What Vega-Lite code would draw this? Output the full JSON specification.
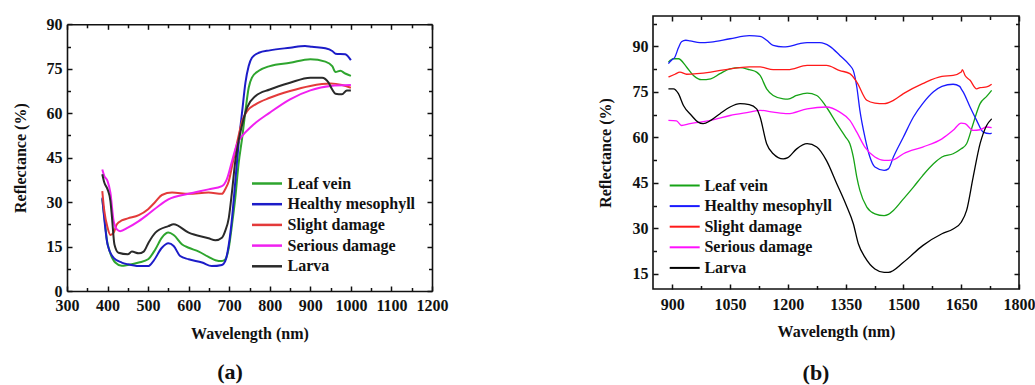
{
"$schema": "https://vega.github.io/schema/vega-lite/v6.json",
"background": "white",
"padding": {"left": 12, "top": 14, "right": 0, "bottom": 0},
"spacing": 148,
"resolve": {"scale": {"color": "independent"}, "legend": {"color": "independent"}},
"datasets": {
"a": [
{"s":"Leaf vein","w":387,"r":31},{"s":"Leaf vein","w":393,"r":24},{"s":"Leaf vein","w":398,"r":17.5},{"s":"Leaf vein","w":405,"r":13.5},{"s":"Leaf vein","w":419,"r":9.6},{"s":"Leaf vein","w":435,"r":8.5},{"s":"Leaf vein","w":450,"r":8.8},{"s":"Leaf vein","w":477,"r":9.6},{"s":"Leaf vein","w":500,"r":10.7},{"s":"Leaf vein","w":518,"r":14.1},{"s":"Leaf vein","w":534,"r":18},{"s":"Leaf vein","w":550,"r":19.7},{"s":"Leaf vein","w":563,"r":18.9},{"s":"Leaf vein","w":584,"r":15.7},{"s":"Leaf vein","w":600,"r":14.6},{"s":"Leaf vein","w":625,"r":13.3},{"s":"Leaf vein","w":649,"r":11.5},{"s":"Leaf vein","w":666,"r":10.4},{"s":"Leaf vein","w":682,"r":10.1},{"s":"Leaf vein","w":690,"r":10.6},{"s":"Leaf vein","w":699,"r":14.6},{"s":"Leaf vein","w":707,"r":22.5},{"s":"Leaf vein","w":715,"r":31.5},{"s":"Leaf vein","w":723,"r":42.8},{"s":"Leaf vein","w":732,"r":51.8},{"s":"Leaf vein","w":740,"r":60.8},{"s":"Leaf vein","w":748,"r":68.6},{"s":"Leaf vein","w":756,"r":72},{"s":"Leaf vein","w":773,"r":74.3},{"s":"Leaf vein","w":800,"r":75.9},{"s":"Leaf vein","w":850,"r":77},{"s":"Leaf vein","w":900,"r":78.2},{"s":"Leaf vein","w":937,"r":77.4},{"s":"Leaf vein","w":954,"r":75.9},{"s":"Leaf vein","w":962,"r":73.9},{"s":"Leaf vein","w":974,"r":74.3},{"s":"Leaf vein","w":986,"r":73.4},{"s":"Leaf vein","w":1000,"r":72.6},
{"s":"Healthy mesophyll","w":387,"r":31.5},{"s":"Healthy mesophyll","w":393,"r":23},{"s":"Healthy mesophyll","w":400,"r":15.7},{"s":"Healthy mesophyll","w":415,"r":11.2},{"s":"Healthy mesophyll","w":435,"r":9.6},{"s":"Healthy mesophyll","w":450,"r":9},{"s":"Healthy mesophyll","w":477,"r":8.4},{"s":"Healthy mesophyll","w":500,"r":8.4},{"s":"Healthy mesophyll","w":513,"r":10.1},{"s":"Healthy mesophyll","w":534,"r":14.6},{"s":"Healthy mesophyll","w":550,"r":16.1},{"s":"Healthy mesophyll","w":563,"r":15.2},{"s":"Healthy mesophyll","w":579,"r":11.8},{"s":"Healthy mesophyll","w":600,"r":10.7},{"s":"Healthy mesophyll","w":633,"r":9.6},{"s":"Healthy mesophyll","w":657,"r":8.4},{"s":"Healthy mesophyll","w":682,"r":8.8},{"s":"Healthy mesophyll","w":690,"r":10},{"s":"Healthy mesophyll","w":699,"r":15.7},{"s":"Healthy mesophyll","w":707,"r":24.7},{"s":"Healthy mesophyll","w":715,"r":37},{"s":"Healthy mesophyll","w":723,"r":49.5},{"s":"Healthy mesophyll","w":732,"r":60.7},{"s":"Healthy mesophyll","w":740,"r":70.3},{"s":"Healthy mesophyll","w":748,"r":75.9},{"s":"Healthy mesophyll","w":756,"r":78.7},{"s":"Healthy mesophyll","w":773,"r":80.4},{"s":"Healthy mesophyll","w":800,"r":81.2},{"s":"Healthy mesophyll","w":850,"r":82.1},{"s":"Healthy mesophyll","w":887,"r":82.7},{"s":"Healthy mesophyll","w":904,"r":82.4},{"s":"Healthy mesophyll","w":937,"r":81.9},{"s":"Healthy mesophyll","w":954,"r":81},{"s":"Healthy mesophyll","w":962,"r":80.1},{"s":"Healthy mesophyll","w":986,"r":79.9},{"s":"Healthy mesophyll","w":1000,"r":77.9},
{"s":"Slight damage","w":387,"r":33.7},{"s":"Slight damage","w":392,"r":27},{"s":"Slight damage","w":400,"r":21.4},{"s":"Slight damage","w":407,"r":18.9},{"s":"Slight damage","w":415,"r":19.7},{"s":"Slight damage","w":423,"r":22.5},{"s":"Slight damage","w":435,"r":23.8},{"s":"Slight damage","w":450,"r":24.5},{"s":"Slight damage","w":477,"r":25.6},{"s":"Slight damage","w":500,"r":27.6},{"s":"Slight damage","w":518,"r":30.1},{"s":"Slight damage","w":534,"r":32.4},{"s":"Slight damage","w":559,"r":33.2},{"s":"Slight damage","w":600,"r":32.8},{"s":"Slight damage","w":649,"r":33.2},{"s":"Slight damage","w":682,"r":32.8},{"s":"Slight damage","w":690,"r":34.3},{"s":"Slight damage","w":699,"r":37.1},{"s":"Slight damage","w":707,"r":42.2},{"s":"Slight damage","w":715,"r":47.2},{"s":"Slight damage","w":723,"r":52.3},{"s":"Slight damage","w":732,"r":57.4},{"s":"Slight damage","w":744,"r":60.7},{"s":"Slight damage","w":765,"r":63},{"s":"Slight damage","w":800,"r":65.2},{"s":"Slight damage","w":850,"r":67.5},{"s":"Slight damage","w":900,"r":69.2},{"s":"Slight damage","w":950,"r":70},{"s":"Slight damage","w":978,"r":69.5},{"s":"Slight damage","w":1000,"r":68.6},
{"s":"Serious damage","w":387,"r":41},{"s":"Serious damage","w":392,"r":38.8},{"s":"Serious damage","w":400,"r":37.1},{"s":"Serious damage","w":407,"r":33.2},{"s":"Serious damage","w":415,"r":23.6},{"s":"Serious damage","w":423,"r":20.8},{"s":"Serious damage","w":431,"r":20.2},{"s":"Serious damage","w":450,"r":21.4},{"s":"Serious damage","w":477,"r":23.6},{"s":"Serious damage","w":500,"r":25.9},{"s":"Serious damage","w":526,"r":28.7},{"s":"Serious damage","w":550,"r":30.9},{"s":"Serious damage","w":600,"r":32.8},{"s":"Serious damage","w":649,"r":34.3},{"s":"Serious damage","w":682,"r":35.4},{"s":"Serious damage","w":694,"r":37.7},{"s":"Serious damage","w":707,"r":43.9},{"s":"Serious damage","w":719,"r":49.5},{"s":"Serious damage","w":732,"r":52.3},{"s":"Serious damage","w":756,"r":55.7},{"s":"Serious damage","w":800,"r":60.2},{"s":"Serious damage","w":850,"r":64.7},{"s":"Serious damage","w":900,"r":67.7},{"s":"Serious damage","w":950,"r":69.2},{"s":"Serious damage","w":1000,"r":69.5},
{"s":"Larva","w":387,"r":39.4},{"s":"Larva","w":392,"r":36.6},{"s":"Larva","w":400,"r":34.3},{"s":"Larva","w":407,"r":30.4},{"s":"Larva","w":411,"r":24.7},{"s":"Larva","w":417,"r":15.7},{"s":"Larva","w":427,"r":12.9},{"s":"Larva","w":450,"r":12.4},{"s":"Larva","w":460,"r":13.3},{"s":"Larva","w":477,"r":12.7},{"s":"Larva","w":489,"r":13.3},{"s":"Larva","w":501,"r":16.3},{"s":"Larva","w":518,"r":19.7},{"s":"Larva","w":550,"r":21.9},{"s":"Larva","w":563,"r":22.5},{"s":"Larva","w":600,"r":19.7},{"s":"Larva","w":649,"r":17.8},{"s":"Larva","w":666,"r":17.1},{"s":"Larva","w":682,"r":18},{"s":"Larva","w":690,"r":20.2},{"s":"Larva","w":699,"r":24.7},{"s":"Larva","w":707,"r":33.7},{"s":"Larva","w":715,"r":43.9},{"s":"Larva","w":723,"r":50.6},{"s":"Larva","w":732,"r":56.2},{"s":"Larva","w":744,"r":61.9},{"s":"Larva","w":765,"r":65.8},{"s":"Larva","w":800,"r":68},{"s":"Larva","w":850,"r":70.3},{"s":"Larva","w":900,"r":72},{"s":"Larva","w":929,"r":72},{"s":"Larva","w":945,"r":70.3},{"s":"Larva","w":954,"r":68},{"s":"Larva","w":962,"r":66.6},{"s":"Larva","w":978,"r":66.4},{"s":"Larva","w":990,"r":67.7},{"s":"Larva","w":1000,"r":67.7}
],
"b": [
{"s":"Leaf vein","w":890,"r":84.8},{"s":"Leaf vein","w":903,"r":85.9},{"s":"Leaf vein","w":916,"r":85.9},{"s":"Leaf vein","w":937,"r":83.2},{"s":"Leaf vein","w":955,"r":80.4},{"s":"Leaf vein","w":976,"r":79},{"s":"Leaf vein","w":1000,"r":79.3},{"s":"Leaf vein","w":1024,"r":81},{"s":"Leaf vein","w":1050,"r":82.6},{"s":"Leaf vein","w":1076,"r":83},{"s":"Leaf vein","w":1100,"r":82.3},{"s":"Leaf vein","w":1119,"r":81.5},{"s":"Leaf vein","w":1128,"r":80.4},{"s":"Leaf vein","w":1145,"r":76},{"s":"Leaf vein","w":1162,"r":73.8},{"s":"Leaf vein","w":1188,"r":72.7},{"s":"Leaf vein","w":1200,"r":72.6},{"s":"Leaf vein","w":1223,"r":73.8},{"s":"Leaf vein","w":1250,"r":74.6},{"s":"Leaf vein","w":1275,"r":73.8},{"s":"Leaf vein","w":1300,"r":70},{"s":"Leaf vein","w":1327,"r":64.5},{"s":"Leaf vein","w":1350,"r":60.1},{"s":"Leaf vein","w":1361,"r":57.9},{"s":"Leaf vein","w":1370,"r":53.5},{"s":"Leaf vein","w":1379,"r":46.9},{"s":"Leaf vein","w":1387,"r":42.5},{"s":"Leaf vein","w":1405,"r":37},{"s":"Leaf vein","w":1426,"r":34.8},{"s":"Leaf vein","w":1450,"r":34.2},{"s":"Leaf vein","w":1461,"r":34.6},{"s":"Leaf vein","w":1474,"r":35.9},{"s":"Leaf vein","w":1500,"r":39.7},{"s":"Leaf vein","w":1526,"r":43.6},{"s":"Leaf vein","w":1550,"r":47.4},{"s":"Leaf vein","w":1578,"r":51.3},{"s":"Leaf vein","w":1600,"r":53.5},{"s":"Leaf vein","w":1629,"r":54.6},{"s":"Leaf vein","w":1650,"r":56.2},{"s":"Leaf vein","w":1664,"r":57.9},{"s":"Leaf vein","w":1681,"r":64.5},{"s":"Leaf vein","w":1699,"r":71.1},{"s":"Leaf vein","w":1716,"r":73.5},{"s":"Leaf vein","w":1729,"r":75.5},
{"s":"Healthy mesophyll","w":890,"r":84.3},{"s":"Healthy mesophyll","w":898,"r":85.4},{"s":"Healthy mesophyll","w":907,"r":86.5},{"s":"Healthy mesophyll","w":916,"r":89.5},{"s":"Healthy mesophyll","w":924,"r":91.5},{"s":"Healthy mesophyll","w":935,"r":92},{"s":"Healthy mesophyll","w":946,"r":91.8},{"s":"Healthy mesophyll","w":972,"r":91.2},{"s":"Healthy mesophyll","w":1000,"r":91.4},{"s":"Healthy mesophyll","w":1050,"r":92.5},{"s":"Healthy mesophyll","w":1100,"r":93.5},{"s":"Healthy mesophyll","w":1128,"r":93.3},{"s":"Healthy mesophyll","w":1145,"r":92},{"s":"Healthy mesophyll","w":1162,"r":90.3},{"s":"Healthy mesophyll","w":1188,"r":89.8},{"s":"Healthy mesophyll","w":1200,"r":89.9},{"s":"Healthy mesophyll","w":1231,"r":90.9},{"s":"Healthy mesophyll","w":1250,"r":91.2},{"s":"Healthy mesophyll","w":1283,"r":91.2},{"s":"Healthy mesophyll","w":1309,"r":90},{"s":"Healthy mesophyll","w":1335,"r":87},{"s":"Healthy mesophyll","w":1361,"r":83.7},{"s":"Healthy mesophyll","w":1370,"r":82},{"s":"Healthy mesophyll","w":1379,"r":76.6},{"s":"Healthy mesophyll","w":1387,"r":68.9},{"s":"Healthy mesophyll","w":1400,"r":60.1},{"s":"Healthy mesophyll","w":1413,"r":53.5},{"s":"Healthy mesophyll","w":1426,"r":50.2},{"s":"Healthy mesophyll","w":1450,"r":49.1},{"s":"Healthy mesophyll","w":1461,"r":49.6},{"s":"Healthy mesophyll","w":1474,"r":53.5},{"s":"Healthy mesophyll","w":1500,"r":60.1},{"s":"Healthy mesophyll","w":1526,"r":66.7},{"s":"Healthy mesophyll","w":1550,"r":71.1},{"s":"Healthy mesophyll","w":1578,"r":75},{"s":"Healthy mesophyll","w":1600,"r":76.8},{"s":"Healthy mesophyll","w":1629,"r":77.5},{"s":"Healthy mesophyll","w":1646,"r":76.8},{"s":"Healthy mesophyll","w":1650,"r":76},{"s":"Healthy mesophyll","w":1655,"r":75},{"s":"Healthy mesophyll","w":1673,"r":70},{"s":"Healthy mesophyll","w":1690,"r":65.6},{"s":"Healthy mesophyll","w":1707,"r":61.7},{"s":"Healthy mesophyll","w":1724,"r":61.2},{"s":"Healthy mesophyll","w":1729,"r":61.4},
{"s":"Slight damage","w":890,"r":79.9},{"s":"Slight damage","w":907,"r":80.8},{"s":"Slight damage","w":920,"r":81.5},{"s":"Slight damage","w":937,"r":80.8},{"s":"Slight damage","w":1000,"r":81.5},{"s":"Slight damage","w":1050,"r":82.6},{"s":"Slight damage","w":1100,"r":83.2},{"s":"Slight damage","w":1128,"r":83.2},{"s":"Slight damage","w":1162,"r":82.3},{"s":"Slight damage","w":1200,"r":82.3},{"s":"Slight damage","w":1250,"r":83.7},{"s":"Slight damage","w":1300,"r":83.7},{"s":"Slight damage","w":1335,"r":82},{"s":"Slight damage","w":1361,"r":81},{"s":"Slight damage","w":1379,"r":78.2},{"s":"Slight damage","w":1405,"r":72.2},{"s":"Slight damage","w":1426,"r":71.3},{"s":"Slight damage","w":1450,"r":71.1},{"s":"Slight damage","w":1474,"r":72.2},{"s":"Slight damage","w":1500,"r":74.4},{"s":"Slight damage","w":1550,"r":77.7},{"s":"Slight damage","w":1600,"r":80.1},{"s":"Slight damage","w":1629,"r":80.4},{"s":"Slight damage","w":1650,"r":81.5},{"s":"Slight damage","w":1653,"r":82.3},{"s":"Slight damage","w":1660,"r":80.4},{"s":"Slight damage","w":1673,"r":78.8},{"s":"Slight damage","w":1690,"r":76},{"s":"Slight damage","w":1699,"r":76.4},{"s":"Slight damage","w":1716,"r":76.6},{"s":"Slight damage","w":1729,"r":77.5},
{"s":"Serious damage","w":890,"r":65.6},{"s":"Serious damage","w":911,"r":65.4},{"s":"Serious damage","w":924,"r":63.9},{"s":"Serious damage","w":946,"r":64.5},{"s":"Serious damage","w":1000,"r":65.6},{"s":"Serious damage","w":1050,"r":67.2},{"s":"Serious damage","w":1100,"r":68.3},{"s":"Serious damage","w":1128,"r":68.9},{"s":"Serious damage","w":1162,"r":68.3},{"s":"Serious damage","w":1200,"r":67.8},{"s":"Serious damage","w":1250,"r":69.4},{"s":"Serious damage","w":1300,"r":70},{"s":"Serious damage","w":1335,"r":68.3},{"s":"Serious damage","w":1361,"r":65.6},{"s":"Serious damage","w":1379,"r":61.7},{"s":"Serious damage","w":1400,"r":56.8},{"s":"Serious damage","w":1426,"r":53.5},{"s":"Serious damage","w":1450,"r":52.4},{"s":"Serious damage","w":1474,"r":52.6},{"s":"Serious damage","w":1500,"r":54.6},{"s":"Serious damage","w":1550,"r":56.8},{"s":"Serious damage","w":1600,"r":59.5},{"s":"Serious damage","w":1629,"r":62.3},{"s":"Serious damage","w":1650,"r":64.7},{"s":"Serious damage","w":1660,"r":64.5},{"s":"Serious damage","w":1681,"r":62.3},{"s":"Serious damage","w":1699,"r":62.5},{"s":"Serious damage","w":1716,"r":63.4},{"s":"Serious damage","w":1729,"r":63.2},
{"s":"Larva","w":890,"r":76},{"s":"Larva","w":903,"r":76},{"s":"Larva","w":916,"r":74.4},{"s":"Larva","w":929,"r":70.5},{"s":"Larva","w":950,"r":67.2},{"s":"Larva","w":967,"r":65},{"s":"Larva","w":980,"r":64.5},{"s":"Larva","w":1000,"r":65.6},{"s":"Larva","w":1024,"r":67.8},{"s":"Larva","w":1050,"r":70},{"s":"Larva","w":1076,"r":71.1},{"s":"Larva","w":1100,"r":70.8},{"s":"Larva","w":1119,"r":69.4},{"s":"Larva","w":1128,"r":66.7},{"s":"Larva","w":1145,"r":57.9},{"s":"Larva","w":1162,"r":54.6},{"s":"Larva","w":1188,"r":52.9},{"s":"Larva","w":1200,"r":53.3},{"s":"Larva","w":1223,"r":56.2},{"s":"Larva","w":1250,"r":57.9},{"s":"Larva","w":1275,"r":56.8},{"s":"Larva","w":1300,"r":52.4},{"s":"Larva","w":1327,"r":44.7},{"s":"Larva","w":1350,"r":38.1},{"s":"Larva","w":1370,"r":31.5},{"s":"Larva","w":1383,"r":24.9},{"s":"Larva","w":1400,"r":20.5},{"s":"Larva","w":1426,"r":16.6},{"s":"Larva","w":1450,"r":15.5},{"s":"Larva","w":1461,"r":15.5},{"s":"Larva","w":1500,"r":18.8},{"s":"Larva","w":1550,"r":24.3},{"s":"Larva","w":1600,"r":28.2},{"s":"Larva","w":1629,"r":29.8},{"s":"Larva","w":1650,"r":32},{"s":"Larva","w":1664,"r":35.9},{"s":"Larva","w":1681,"r":46.9},{"s":"Larva","w":1699,"r":57.9},{"s":"Larva","w":1716,"r":63.9},{"s":"Larva","w":1729,"r":66.1}
]
},
"hconcat": [
{
"width": 365, "height": 275,
"view": {"stroke": null},
"data": {"name": "a"},
"title": {"text": "(a)", "orient": "bottom", "anchor": "middle", "frame": "bounds", "offset": 21},
"resolve": {"axis": {"x": "independent", "y": "independent"}},
"layer": [
{"mark": {"type": "line", "interpolate": "monotone", "strokeWidth": 2},
 "encoding": {
  "x": {"field": "w", "type": "quantitative", "scale": {"domain": [300, 1200], "nice": false, "zero": false},
        "axis": {"orient": "bottom", "format": "d", "values": [300,400,500,600,700,800,900,1000,1100,1200], "ticks": false, "labelPadding": 6, "title": "Wavelength (nm)", "titlePadding": 12}},
  "y": {"field": "r", "type": "quantitative", "scale": {"domain": [0, 90], "range": [275, 8.3], "nice": false, "zero": false},
        "axis": {"orient": "left", "values": [0,15,30,45,60,75,90], "ticks": false, "labelPadding": 5, "title": "Reflectance (%)", "titlePadding": 18}},
  "color": {"field": "s", "type": "nominal",
        "scale": {"domain": ["Leaf vein","Healthy mesophyll","Slight damage","Serious damage","Larva"], "range": ["#2ea52e","#1c1cc8","#e33a3a","#f020f0","#2a2a2a"]},
        "legend": {"orient": "none", "legendX": 192, "legendY": 159.5, "title": null, "symbolType": "M-3,0H3", "symbolSize": 100, "symbolStrokeWidth": 2.5, "labelOffset": 12.5, "rowPadding": 4.7}}
 }},
{"mark": {"type": "line", "strokeOpacity": 0},
 "encoding": {
  "x": {"field": "w", "type": "quantitative", "scale": {"domain": [300, 1200], "nice": false, "zero": false},
        "axis": {"orient": "bottom", "domain": true, "values": [300,400,500,600,700,800,900,1000,1100,1200], "labels": false, "tickSize": -5, "title": null}},
  "y": {"field": "r", "type": "quantitative", "scale": {"domain": [0, 90], "range": [275, 8.3], "nice": false, "zero": false},
        "axis": {"orient": "left", "domain": true, "values": [0,15,30,45,60,75,90], "labels": false, "tickSize": -5, "title": null}}
 }},
{"mark": {"type": "line", "strokeOpacity": 0},
 "encoding": {
  "x": {"field": "w", "type": "quantitative", "scale": {"domain": [300, 1200], "nice": false, "zero": false},
        "axis": {"orient": "bottom", "values": [350,450,550,650,750,850,950,1050,1150], "labels": false, "tickSize": -3.5, "title": null}},
  "y": {"field": "r", "type": "quantitative", "scale": {"domain": [0, 90], "range": [275, 8.3], "nice": false, "zero": false},
        "axis": {"orient": "left", "values": [7.5,22.5,37.5,52.5,67.5,82.5], "labels": false, "tickSize": -3.5, "title": null}}
 }},
{"mark": {"type": "line", "strokeOpacity": 0},
 "encoding": {
  "x": {"field": "w", "type": "quantitative", "scale": {"domain": [300, 1200], "nice": false, "zero": false},
        "axis": {"orient": "top", "offset": -8.3, "domain": true, "values": [300,400,500,600,700,800,900,1000,1100,1200], "labels": false, "tickSize": -5, "title": null}},
  "y": {"field": "r", "type": "quantitative", "scale": {"domain": [0, 90], "range": [275, 8.3], "nice": false, "zero": false},
        "axis": {"orient": "right", "domain": true, "values": [0,15,30,45,60,75,90], "labels": false, "tickSize": -5, "title": null}}
 }},
{"mark": {"type": "line", "strokeOpacity": 0},
 "encoding": {
  "x": {"field": "w", "type": "quantitative", "scale": {"domain": [300, 1200], "nice": false, "zero": false},
        "axis": {"orient": "top", "offset": -8.3, "values": [350,450,550,650,750,850,950,1050,1150], "labels": false, "tickSize": -3.5, "title": null}},
  "y": {"field": "r", "type": "quantitative", "scale": {"domain": [0, 90], "range": [275, 8.3], "nice": false, "zero": false},
        "axis": {"orient": "right", "values": [7.5,22.5,37.5,52.5,67.5,82.5], "labels": false, "tickSize": -3.5, "title": null}}
 }}
]
},
{
"width": 366, "height": 273,
"data": {"name": "b"},
"title": {"text": "(b)", "orient": "bottom", "anchor": "middle", "frame": "bounds", "offset": 24},
"resolve": {"axis": {"x": "independent", "y": "independent"}},
"layer": [
{"mark": {"type": "line", "interpolate": "monotone", "strokeWidth": 1.3},
 "encoding": {
  "x": {"field": "w", "type": "quantitative", "scale": {"domain": [850, 1800], "nice": false, "zero": false},
        "axis": {"orient": "bottom", "format": "d", "values": [900,1050,1200,1350,1500,1650,1800], "ticks": false, "labelPadding": 7, "title": "Wavelength (nm)", "titlePadding": 11}},
  "y": {"field": "r", "type": "quantitative", "scale": {"domain": [10, 100], "nice": false, "zero": false},
        "axis": {"orient": "left", "values": [15,30,45,60,75,90], "ticks": false, "labelPadding": 5, "title": "Reflectance (%)", "titlePadding": 19}},
  "color": {"field": "s", "type": "nominal",
        "scale": {"domain": ["Leaf vein","Healthy mesophyll","Slight damage","Serious damage","Larva"], "range": ["#16a316","#1a1aff","#ff1a1a","#ff10ff","#000000"]},
        "legend": {"orient": "none", "legendX": 23.7, "legendY": 161.5, "title": null, "symbolType": "M-3,0H3", "symbolSize": 100, "symbolStrokeWidth": 2, "labelOffset": 11.7, "rowPadding": 4.6}}
 }},
{"mark": {"type": "line", "strokeOpacity": 0},
 "encoding": {
  "x": {"field": "w", "type": "quantitative", "scale": {"domain": [850, 1800], "nice": false, "zero": false},
        "axis": {"orient": "bottom", "values": [900,1050,1200,1350,1500,1650,1800], "labels": false, "tickSize": -5, "title": null}},
  "y": {"field": "r", "type": "quantitative", "scale": {"domain": [10, 100], "nice": false, "zero": false},
        "axis": {"orient": "left", "values": [15,30,45,60,75,90], "labels": false, "tickSize": -5, "title": null}}
 }},
{"mark": {"type": "line", "strokeOpacity": 0},
 "encoding": {
  "x": {"field": "w", "type": "quantitative", "scale": {"domain": [850, 1800], "nice": false, "zero": false},
        "axis": {"orient": "bottom", "values": [975,1125,1275,1425,1575,1725], "labels": false, "tickSize": -3.5, "title": null}},
  "y": {"field": "r", "type": "quantitative", "scale": {"domain": [10, 100], "nice": false, "zero": false},
        "axis": {"orient": "left", "values": [22.5,37.5,52.5,67.5,82.5,97.5], "labels": false, "tickSize": -3.5, "title": null}}
 }},
{"mark": {"type": "line", "strokeOpacity": 0},
 "encoding": {
  "x": {"field": "w", "type": "quantitative", "scale": {"domain": [850, 1800], "nice": false, "zero": false},
        "axis": {"orient": "top", "values": [900,1050,1200,1350,1500,1650,1800], "labels": false, "tickSize": -5, "title": null}},
  "y": {"field": "r", "type": "quantitative", "scale": {"domain": [10, 100], "nice": false, "zero": false},
        "axis": {"orient": "right", "values": [15,30,45,60,75,90], "labels": false, "tickSize": -5, "title": null}}
 }},
{"mark": {"type": "line", "strokeOpacity": 0},
 "encoding": {
  "x": {"field": "w", "type": "quantitative", "scale": {"domain": [850, 1800], "nice": false, "zero": false},
        "axis": {"orient": "top", "values": [975,1125,1275,1425,1575,1725], "labels": false, "tickSize": -3.5, "title": null}},
  "y": {"field": "r", "type": "quantitative", "scale": {"domain": [10, 100], "nice": false, "zero": false},
        "axis": {"orient": "right", "values": [22.5,37.5,52.5,67.5,82.5,97.5], "labels": false, "tickSize": -3.5, "title": null}}
 }}
]
}
],
"config": {
 "font": "Liberation Serif",
 "view": {"stroke": "#111111", "strokeWidth": 1.6},
 "axis": {"grid": false, "domain": false, "domainColor": "#111111", "domainWidth": 1.6, "labelFont": "Liberation Serif", "labelFontWeight": "bold", "labelFontSize": 16, "labelColor": "#111111", "labelFlush": false, "labelOverlap": false, "labelBound": false,
          "titleFont": "Liberation Serif", "titleFontWeight": "bold", "titleFontSize": 16, "titleColor": "#111111", "tickColor": "#111111", "tickWidth": 1.5},
 "legend": {"labelFont": "Liberation Serif", "labelFontWeight": "bold", "labelFontSize": 16, "labelColor": "#111111", "labelLimit": 300, "padding": 0},
 "title": {"font": "Liberation Serif", "fontSize": 22, "fontWeight": "bold", "color": "#111111"}
}
}
